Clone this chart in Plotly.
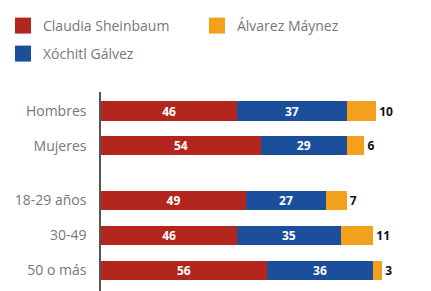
import plotly.graph_objects as go

categories = ["Hombres", "Mujeres", "18-29 años", "30-49", "50 o más"]
groups = [0, 0, 1, 1, 1]
sheinbaum = [46, 54, 49, 46, 56]
galvez = [37, 29, 27, 35, 36]
maynez = [10, 6, 7, 11, 3]

names = ["Claudia Sheinbaum", "Xóchitl Gálvez", "Álvarez Máynez"]
colors = ["#B3261E", "#1B4F9C", "#F3A11B"]

GROUP_GAP = 0.57
ypos = [i + g * GROUP_GAP for i, g in enumerate(groups)]

fig = go.Figure()
series = [sheinbaum, galvez, maynez]
for k, (name, vals, col) in enumerate(zip(names, series, colors)):
    inside = k < 2
    fig.add_trace(go.Bar(
        x=vals, y=ypos, orientation="h", name=name,
        marker=dict(color=col, line=dict(width=0)),
        width=0.55,
        text=[str(v) for v in vals],
        textposition="inside" if inside else "outside",
        insidetextanchor="middle",
        textangle=0,
        textfont=dict(family="Open Sans", size=12,
                      color="white" if inside else "#111", weight="bold"),
        constraintext="none",
        cliponaxis=False,
        showlegend=False,
    ))

# legend entries (one legend per entry for placement)
legend_ids = ["legend", "legend3", "legend2"]
for k in range(3):
    fig.add_trace(go.Scatter(
        x=[None], y=[None], mode="markers", name=names[k],
        marker=dict(symbol="square", size=16, color=colors[k]),
        legend=legend_ids[k], showlegend=True,
    ))

leg_font = dict(family="Open Sans", size=14, color="#777")
def leg(x, y):
    return dict(x=x, y=y, xref="container", yref="container",
                xanchor="left", yanchor="middle", font=leg_font,
                bgcolor="rgba(0,0,0,0)", borderwidth=0)

fig.update_layout(
    width=431, height=291,
    margin=dict(l=101, r=0, t=92, b=0, autoexpand=False),
    barmode="stack",
    plot_bgcolor="white", paper_bgcolor="white",
    font=dict(family="Open Sans", size=14, color="#777"),
    legend=leg(3 / 431, 1 - 26 / 291),
    legend2=leg(0.45 + 3 / 431, 1 - 26 / 291),
    legend3=leg(3 / 431, 1 - 54 / 291),
    xaxis=dict(range=[0, 111.5], visible=False, fixedrange=True),
    yaxis=dict(range=[5.17, -0.546], tickvals=ypos, ticktext=categories,
               showline=True, linecolor="#555", linewidth=1.5,
               showgrid=False, zeroline=False, ticks="", ticklabelstandoff=10,
               tickfont=dict(family="Open Sans", size=14, color="#777")),
)

fig.write_html("out.html", config={"displayModeBar": False},
               post_script="document.body.style.margin='0';")
